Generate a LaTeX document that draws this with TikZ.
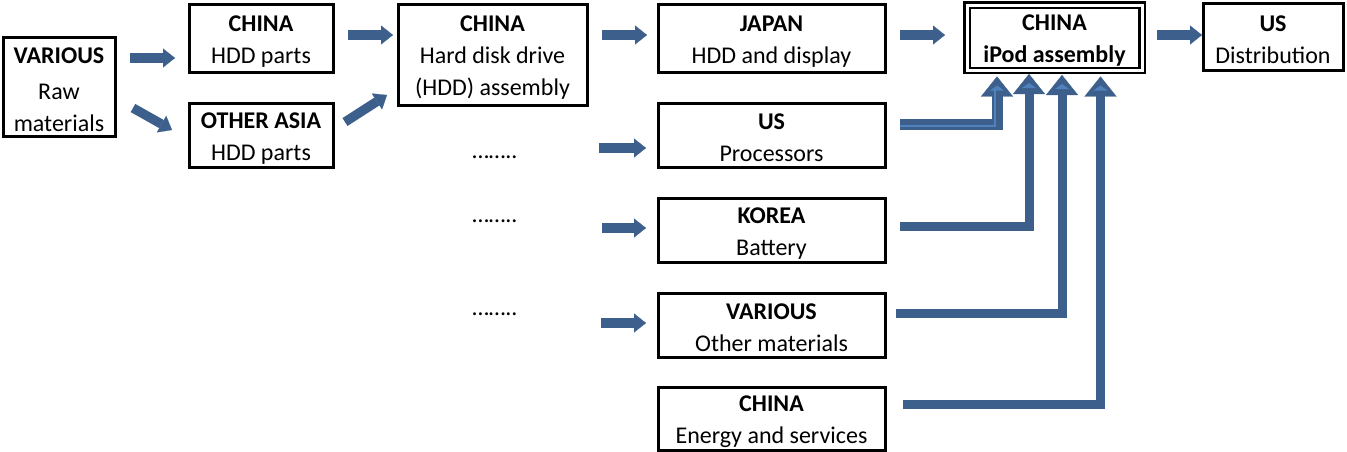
\documentclass[tikz,border=0pt]{standalone}
\usepackage{fontspec}
\setmainfont{Carlito}
\usetikzlibrary{arrows.meta,calc}
\definecolor{ablue}{RGB}{60,95,140}
\definecolor{lblue}{RGB}{79,129,189}
\newcommand\fsz{\fontsize{18}{24}\selectfont}
\newcommand\hd[1]{\rule{0pt}{16.5pt}\textbf{#1}}
\begin{document}
\begin{tikzpicture}[x=0.75pt,y=-0.75pt,
 box/.style={draw=black,line width=2.25pt,fill=white,align=center,inner sep=0pt,outer sep=0pt,font=\fsz},
 barrow/.style={draw=ablue,line width=7pt,-{Triangle[width=14.25pt,length=9pt,line width=0.1pt]}},
 elbow/.style={draw=ablue,line width=6.75pt,-{Triangle[width=24pt,length=15pt,line width=0.1pt]}},
 dotsnode/.style={inner sep=0pt,font=\fsz,anchor=base west},
 hilite/.style={fill=lblue}
]
\useasboundingbox (0,0) rectangle (1347,451);

% boxes
\node[box,minimum width=84pt,minimum height=74.25pt] (raw) at (59,86.5) {\hd{VARIOUS}\\[3pt]Raw\\materials};
\node[box,minimum width=108pt,minimum height=51pt] (chp) at (261,38) {\hd{CHINA}\\HDD parts};
\node[box,minimum width=108pt,minimum height=48pt] (oap) at (261,135) {\hd{OTHER ASIA}\\HDD parts};
\node[box,minimum width=141.75pt,minimum height=75.75pt] (hdd) at (492.5,54.5) {\hd{CHINA}\\Hard disk drive\\(HDD) assembly};
\node[box,minimum width=170.25pt,minimum height=51pt] (jap) at (771.5,38) {\hd{JAPAN}\\HDD and display};
\node[box,minimum width=170.25pt,minimum height=48pt] (usp) at (771.5,135) {\hd{US}\\Processors};
\node[box,minimum width=170.25pt,minimum height=48pt] (kor) at (771.5,230) {\hd{KOREA}\\Battery};
\node[box,minimum width=170.25pt,minimum height=48pt] (var) at (771.5,325) {\hd{VARIOUS}\\Other materials};
\node[box,minimum width=170.25pt,minimum height=47.25pt] (ene) at (771.5,418.5) {\hd{CHINA}\\Energy and services};
\node[box,line width=1.8pt,double=white,double distance=2.25pt,minimum width=131.25pt,minimum height=49.125pt] (ipod) at (1054.5,37.75) {\hd{CHINA}\\\textbf{iPod assembly}};
\node[box,minimum width=105pt,minimum height=50.25pt] (usd) at (1273,36.5) {\hd{US}\\Distribution};

% dots
\node[dotsnode] (d1) at (472,158) {……..};
\node[dotsnode] (d2) at (472,222) {……..};
\node[dotsnode] (d3) at (472,315) {……..};

% straight block arrows
\draw[barrow] ($(raw.east)+(15,-28.5)$) -- ($(chp.west)+(-14,20)$);
\draw[barrow] ($(raw.east)+(18,21.5)$) -- ($(oap.west)+(-17,-5)$);
\draw[barrow] ($(chp.east)+(15,-3)$) -- ($(hdd.west)+(-5,-19.5)$);
\draw[barrow] ($(oap.east)+(12,-13)$) -- ($(hdd.west)+(-11,40.5)$);
\draw[barrow] ($(hdd.east)+(15,-19.5)$) -- ($(jap.west)+(-11,-3)$);
\draw[barrow] ($(d1.base west)+(127,-10)$) -- ($(usp.west)+(-12,13)$);
\draw[barrow] ($(d2.base west)+(130,6)$) -- ($(kor.west)+(-12,-2)$);
\draw[barrow] ($(d3.base west)+(129,8)$) -- ($(var.west)+(-12,-2)$);
\draw[barrow] ($(jap.east)+(15,-3)$) -- ($(ipod.west)+(-22,-2.75)$);
\draw[barrow] ($(ipod.east)+(15,-2.75)$) -- ($(usd.west)+(-1,-1.5)$);

% tips under the iPod box
\coordinate (t1) at ($(ipod.south)+(-57.5,6)$);
\coordinate (t2) at ($(ipod.south)+(-25.5,3.5)$);
\coordinate (t3) at ($(ipod.south)+(7.5,4.5)$);
\coordinate (t4) at ($(ipod.south)+(46,6)$);

% elbow arrows
\draw[elbow,line width=8.25pt] ($(usp.east)+(15,-11)$) -| (t1);
\draw[elbow] ($(kor.east)+(15,-3.5)$) -| (t2);
\draw[elbow] ($(var.east)+(11,-12)$) -| (t3);
\draw[elbow] ($(ene.east)+(18,-14.5)$) -| (t4);
\draw[lblue,line width=1.2pt] ($(usp.east)+(15,-9)$) -| ($(t1)+(-2,12)$);

% highlights in the heads
\foreach \t in {t1,t2,t3,t4}
  \fill[hilite] ($(\t)+(0,9)$) -- ($(\t)+(7,14)$) -- ($(\t)+(-7,14)$) -- cycle;
\end{tikzpicture}
\end{document}
